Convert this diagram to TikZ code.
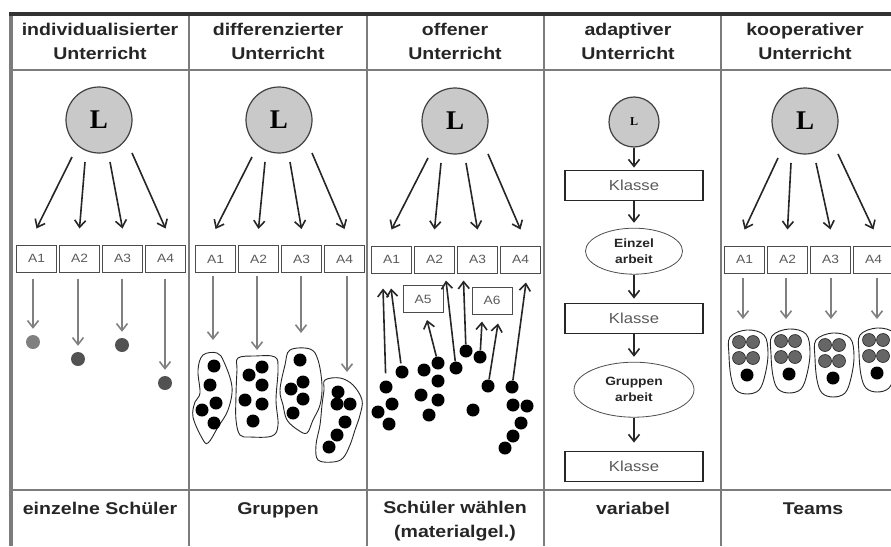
\documentclass[tikz,border=0pt]{standalone}
\usepackage{fontspec}
\usepackage{xcolor}
\usetikzlibrary{positioning,arrows.meta,shapes.geometric}
\newfontfamily\hfont[FakeStretch=1.15]{Liberation Sans}
\newfontfamily\lfont{Liberation Serif}
\definecolor{linie}{HTML}{7C7C7C}
\definecolor{kreis}{HTML}{C9C9C9}
\definecolor{grau}{HTML}{5A5A5A}
\tikzstyle{lehrer} = [circle,draw=black!75,fill=kreis,line width=1.2pt,
                      minimum size=66pt,inner sep=0pt,
                      font=\lfont\bfseries\fontsize{27}{27}\selectfont]
\tikzstyle{aufgabe} = [rectangle,draw=black!70,line width=1pt,minimum width=40pt,
                       minimum height=27pt,inner sep=0pt,text=grau,
                       font=\hfont\fontsize{12}{12}\selectfont]
\tikzstyle{klasse} = [rectangle,draw=black!85,line width=1.2pt,minimum width=138pt,
                      minimum height=30pt,inner sep=0pt,text=grau,
                      font=\hfont\fontsize{14.5}{14.5}\selectfont]
\tikzstyle{phase} = [ellipse,draw=black!70,line width=0.8pt,inner sep=0pt,
                     align=center,text=black!85,
                     font=\hfont\bfseries\fontsize{12}{16}\selectfont]
\tikzstyle{titel} = [align=center,text=black!85,
                     font=\hfont\bfseries\fontsize{17}{24}\selectfont]
\tikzstyle{schueler} = [circle,fill=black,minimum size=13pt,inner sep=0pt]
\tikzstyle{gruppe} = [draw=black!85,line width=0.9pt,smooth cycle,tension=0.6]
\tikzstyle{arrow} = [line width=1.6pt,draw=black!85,
                     -{Straight Barb[length=7pt,width=11pt]}]
\tikzstyle{grayarrow} = [arrow,draw=black!50]

\begin{document}
\begin{tikzpicture}[x=1pt,y=-1pt]
 \useasboundingbox (0,0) rectangle (891,546);
 % Tabelle
 \draw[linie,line width=2pt] (11,70) -- (891,70);
 \draw[linie,line width=2pt] (11,490) -- (891,490);
 \foreach \x in {189,367,544,721} \draw[linie,line width=2pt] (\x,14) -- (\x,546);
 \draw[linie,line width=4pt] (11,13) -- (11,546);
 \draw[black!80,line width=3.5pt] (9,14) -- (891,14);
 % Kopfzeile
 \node (T1) [titel] at (100,41.8) {individualisierter\\Unterricht};
 \node (T2) [titel] at (278,41.8) {differenzierter\\Unterricht};
 \node (T3) [titel] at (455,41.8) {offener\\Unterricht};
 \node (T4) [titel] at (628,41.8) {adaptiver\\Unterricht};
 \node (T5) [titel] at (805,41.8) {kooperativer\\Unterricht};
 % Fusszeile
 \node (F1) [titel,anchor=base] at (100,514) {einzelne Schüler};
 \node (F2) [titel,anchor=base] at (278,514) {Gruppen};
 \node (F3) [titel] at (455,521.6) {Schüler wählen\\(materialgel.)};
 \node (F4) [titel,anchor=base] at (633,514) {variabel};
 \node (F5) [titel,anchor=base] at (813,514) {Teams};

 % individualisierter Unterricht
 \node (IL) [lehrer] at (99,120) {L};
 \node (IA1) [aufgabe] at (36.5,258.5) {A1};
 \node (IA2) [aufgabe,right=2pt of IA1] {A2};
 \node (IA3) [aufgabe,right=2pt of IA2] {A3};
 \node (IA4) [aufgabe,right=2pt of IA3] {A4};
 \node (IS1) [schueler,fill=black!50,minimum size=14pt] at (33,342) {};
 \node (IS2) [schueler,fill=black!68,minimum size=14pt] at (78,359) {};
 \node (IS3) [schueler,fill=black!68,minimum size=14pt] at (122,345) {};
 \node (IS4) [schueler,fill=black!68,minimum size=14pt] at (165,383) {};
 \draw [grayarrow,shorten <=6pt,shorten >=6pt] (IA1.south -| IS1) -- (IS1);
 \draw [grayarrow,shorten <=6pt,shorten >=6pt] (IA2.south -| IS2) -- (IS2);
 \draw [grayarrow,shorten <=6pt,shorten >=6pt] (IA3.south -| IS3) -- (IS3);
 \draw [grayarrow,shorten <=6pt,shorten >=6pt] (IA4.south -| IS4) -- (IS4);

 % differenzierter Unterricht
 \node (DL) [lehrer] at (279,120) {L};
 \node (DA1) [aufgabe] at (215.5,259) {A1};
 \node (DA2) [aufgabe,right=2pt of DA1] {A2};
 \node (DA3) [aufgabe,right=2pt of DA2] {A3};
 \node (DA4) [aufgabe,right=2pt of DA3] {A4};
 \coordinate (DG1) at (213,340);
 \coordinate (DG2) at (257,350);
 \coordinate (DG3) at (301,333);
 \coordinate (DG4) at (347,372);
 \draw [grayarrow,shorten <=3pt] (DA1.south -| DG1) -- (DG1);
 \draw [grayarrow,shorten <=3pt] (DA2.south -| DG2) -- (DG2);
 \draw [grayarrow,shorten <=3pt] (DA3.south -| DG3) -- (DG3);
 \draw [grayarrow,shorten <=3pt] (DA4.south -| DG4) -- (DG4);
 \draw[gruppe] plot coordinates {(203,355) (217,353) (224,362) (232,387) (228,410)
   (218,427) (208,443) (202,438) (193,417) (195,402) (200,393) (198,370)};
 \draw[gruppe] plot coordinates {(238,358) (255,356) (275,357) (278,370) (276,400)
   (278,425) (272,436) (250,437) (240,435) (236,420) (236,395) (237,370)};
 \draw[gruppe] plot coordinates {(290,350) (310,349) (318,360) (322,385) (320,405)
   (313,420) (307,433) (298,430) (287,420) (283,405) (280,390) (285,365)};
 \draw[gruppe] plot coordinates {(325,380) (340,378) (353,385) (362,400) (360,415)
   (355,430) (350,445) (343,458) (333,462) (318,460) (316,445) (320,425) (322,405) (324,390)};
 \foreach \x/\y in {214/366,210/385,216/403,202/410,214/423,
                    262/367,249/375,262/385,245/400,262/404,253/421,
                    300/360,303/382,291/389,303/399,293/413,
                    338/392,337/404,350/404,345/422,337/435,329/447}
   \fill (\x,\y) circle (6.5pt);

 % offener Unterricht
 \node (OL) [lehrer] at (455,121) {L};
 \node (OA1) [aufgabe] at (391.5,259.5) {A1};
 \node (OA2) [aufgabe,right=2pt of OA1] {A2};
 \node (OA3) [aufgabe,right=2pt of OA2] {A3};
 \node (OA4) [aufgabe,right=2pt of OA3] {A4};
 \node (OA5) [aufgabe] at (423,299) {A5};
 \node (OA6) [aufgabe] at (492,300.5) {A6};
 \node (OS1) [schueler] at (386,387) {};
 \node (OS2) [schueler] at (402,372) {};
 \node (OS3) [schueler] at (438,363) {};
 \node (OS4) [schueler] at (456,368) {};
 \node (OS5) [schueler] at (466,351) {};
 \node (OS6) [schueler] at (480,357) {};
 \node (OS7) [schueler] at (488,386) {};
 \node (OS8) [schueler] at (512,387) {};
 \foreach \x/\y in {392/404,378/412,389/424,424/370,438/381,421/395,438/400,
                    429/415,473/410,513/405,527/406,521/423,513/436,505/448}
   \fill (\x,\y) circle (6.5pt);
 \draw [arrow,shorten <=7pt] (OS1) -- ([shift={(-8.5,15)}]OA1.south);
 \draw [arrow,shorten <=2pt] (OS2) -- ([shift={(-0.5,15)}]OA1.south);
 \draw [arrow] (OS3) -- ([shift={(4,7)}]OA5.south);
 \draw [arrow] (OS4) -- ([shift={(11.5,7)}]OA2.south);
 \draw [arrow] (OS5) -- ([shift={(-14,7)}]OA3.south);
 \draw [arrow] (OS6) -- ([shift={(-10,7)}]OA6.south);
 \draw [arrow] (OS7) -- ([shift={(6,9)}]OA6.south);
 \draw [arrow] (OS8) -- ([shift={(5.5,9)}]OA4.south);

 % adaptiver Unterricht
 \node (AL) [lehrer,minimum size=50pt,font=\lfont\bfseries\fontsize{12}{12}\selectfont]
            at (634,122) {L};
 \node (AK1) [klasse,below=22pt of AL] {Klasse};
 \node (AE) [phase,minimum width=97pt,minimum height=46pt,below=27pt of AK1] {Einzel\\arbeit};
 \node (AK2) [klasse,below=28pt of AE] {Klasse};
 \node (AG) [phase,minimum width=120pt,minimum height=55pt,below=28pt of AK2] {Gruppen\\arbeit};
 \node (AK3) [klasse,below=33pt of AG] {Klasse};
 \draw [arrow,shorten >=2pt] (AL) -- (AK1);
 \draw [arrow,shorten >=5pt] (AK1) -- (AE);
 \draw [arrow,shorten >=4pt] (AE) -- (AK2);
 \draw [arrow,shorten >=5pt] (AK2) -- (AG);
 \draw [arrow,shorten >=8pt] (AG) -- (AK3);

 % kooperativer Unterricht
 \node (KL) [lehrer] at (805,121) {L};
 \node (KA1) [aufgabe] at (744.5,259.5) {A1};
 \node (KA2) [aufgabe,right=2pt of KA1] {A2};
 \node (KA3) [aufgabe,right=2pt of KA2] {A3};
 \node (KA4) [aufgabe,right=2pt of KA3] {A4};
 \coordinate (KT1) at (743,319);
 \coordinate (KT2) at (786,319);
 \coordinate (KT3) at (831,319);
 \coordinate (KT4) at (877,319);
 \draw [grayarrow,shorten <=4pt] (KA1.south -| KT1) -- (KT1);
 \draw [grayarrow,shorten <=4pt] (KA2.south -| KT2) -- (KT2);
 \draw [grayarrow,shorten <=4pt] (KA3.south -| KT3) -- (KT3);
 \draw [grayarrow,shorten <=4pt] (KA4.south -| KT4) -- (KT4);
 \foreach \x/\y in {747/375,789/374,833/378,877/373}{
  \begin{scope}[shift={(\x,\y)}]
   \draw[gruppe] plot coordinates {(-17,-38) (0,-45) (17,-40) (21,-22) (18,0)
     (12,15) (0,19) (-11,15) (-16,2) (-18,-20)};
   \foreach \u/\v in {-8/-33,6/-33,-8/-17,6/-17}
     \filldraw[fill=black!60,draw=black!85,line width=0.6pt] (\u,\v) circle (6.5pt);
   \fill (0,0) circle (6.5pt);
  \end{scope}
 }

 % Pfeile vom Lehrer
 \foreach \g in {I,D,O,K}{
  \draw [arrow] ([shift={(-27,37)}]\g L.center) -- ([shift={(0,-16)}]\g A1.north);
  \draw [arrow] ([shift={(-14,42)}]\g L.center) -- ([shift={(0,-16)}]\g A2.north);
  \draw [arrow] ([shift={(11,42)}]\g L.center) -- ([shift={(0,-16)}]\g A3.north);
  \draw [arrow] ([shift={(33,33)}]\g L.center) -- ([shift={(0,-16)}]\g A4.north);
 }
\end{tikzpicture}
\end{document}
